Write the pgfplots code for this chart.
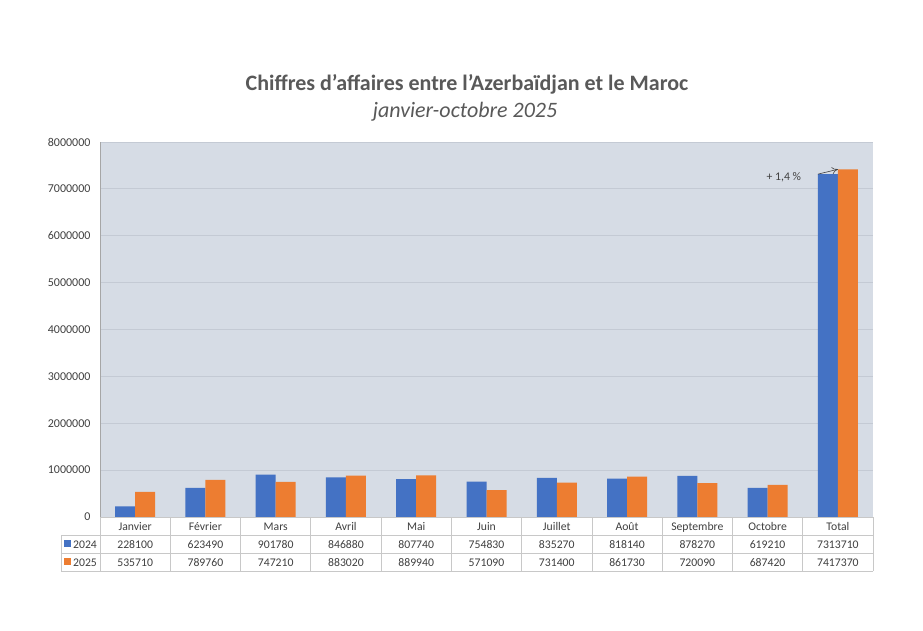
\documentclass[border=0pt]{standalone}
\usepackage{fontspec}
\setmainfont{Carlito}
\usepackage{pgfplots}
\pgfplotsset{compat=1.18}
\usetikzlibrary{arrows.meta}
\definecolor{bblue}{HTML}{4472C4}
\definecolor{borange}{HTML}{ED7D31}
\definecolor{plotbg}{HTML}{D6DCE5}
\definecolor{gridc}{HTML}{C4CAD4}
\definecolor{tline}{HTML}{C8C8C8}
\definecolor{txt}{HTML}{404040}
\definecolor{titlec}{HTML}{595959}
\begin{document}
\begin{tikzpicture}[x=1pt,y=1pt]
\useasboundingbox (0,0) rectangle (923,630);
\fill[white] (0,0) rectangle (923,630);
\begin{axis}[
  at={(100pt,113pt)}, anchor=south west,
  scale only axis, width=773pt, height=375pt,
  xmin=-0.5, xmax=10.5, ymin=0, ymax=8000000,
  ybar=0pt, bar width=20pt,
  axis background/.style={fill=plotbg},
  ymajorgrids, grid style={gridc, line width=0.8pt},
  ytick={0,1000000,2000000,3000000,4000000,5000000,6000000,7000000,8000000},
  scaled y ticks=false,
  major tick length=0pt,
  yticklabel style={/pgf/number format/fixed, /pgf/number format/1000 sep={}, font=\fontsize{12}{14}\selectfont, text=txt, xshift=-6pt},
  /pgf/number format/assume math mode=true,
  xtick=\empty,
  axis lines*=left,
  axis line style={draw=gray!70, -},
  clip=false,
]
\addplot[fill=bblue, draw=none] coordinates {(0,228100) (1,623490) (2,901780) (3,846880) (4,807740) (5,754830) (6,835270) (7,818140) (8,878270) (9,619210) (10,7313710)};
\addplot[fill=borange, draw=none] coordinates {(0,535710) (1,789760) (2,747210) (3,883020) (4,889940) (5,571090) (6,731400) (7,861730) (8,720090) (9,687420) (10,7417370)};
\draw[-{To[length=6pt,width=7pt]}, black!75, line width=0.6pt] ([xshift=-20pt]axis cs:10,7313710) -- (axis cs:10,7417370);
\node[text=txt, font=\fontsize{11.7}{14}\selectfont] at ([xshift=-54pt,yshift=-3pt]axis cs:10,7313710) {+ 1,4 \%};
\end{axis}
% table
\def\w{70.2727}
\draw[tline, line width=0.7pt] (100,113) -- (873,113);
\draw[tline, line width=0.7pt] (61,95) -- (873,95);
\draw[tline, line width=0.7pt] (61,77) -- (873,77);
\draw[tline, line width=0.7pt] (61,59) -- (873,59);
\draw[tline, line width=0.7pt] (61,95) -- (61,59);
\foreach \i in {0,...,11} {
  \draw[tline, line width=0.7pt] ({100+\i*\w},113) -- ({100+\i*\w},59);
}
\tikzset{tcell/.style={text=txt, font=\fontsize{11.7}{14}\selectfont, anchor=base, inner sep=0pt}}
\foreach \i/\name/\a/\b in {0/Janvier/228100/535710, 1/Février/623490/789760, 2/Mars/901780/747210, 3/Avril/846880/883020, 4/Mai/807740/889940, 5/Juin/754830/571090, 6/Juillet/835270/731400, 7/Août/818140/861730, 8/Septembre/878270/720090, 9/Octobre/619210/687420, 10/Total/7313710/7417370} {
  \node[tcell] at ({100+(\i+0.5)*\w},100) {\name};
  \node[tcell] at ({100+(\i+0.5)*\w},82) {\a};
  \node[tcell] at ({100+(\i+0.5)*\w},64) {\b};
}
\fill[bblue] (64,83) rectangle (71,90);
\node[tcell, anchor=base west] at (73,82) {2024};
\fill[borange] (64,65) rectangle (71,72);
\node[tcell, anchor=base west] at (73,64) {2025};
% titles
\node[text=titlec, font=\fontsize{22}{26}\selectfont\bfseries] at (467,546) {Chiffres d’affaires entre l’Azerbaïdjan et le Maroc};
\node[text=titlec, font=\fontsize{22}{26}\selectfont\itshape] at (465,518) {janvier-octobre 2025};
\end{tikzpicture}
\end{document}
